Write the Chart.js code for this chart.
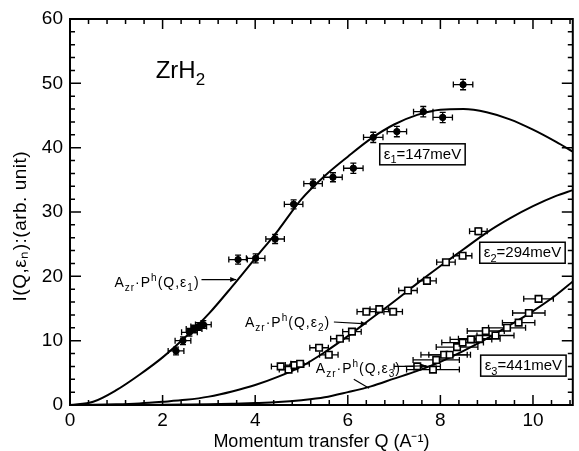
<!DOCTYPE html>
<html><head><meta charset="utf-8">
<script src="https://cdn.jsdelivr.net/npm/chart.js@4.4.0/dist/chart.umd.min.js"></script>
<style>html,body{margin:0;padding:0;background:#fff}</style>
</head><body>
<canvas id="c" width="579" height="451"></canvas>
<script>
// ---- data ----
const e1Q   = [2.29, 2.44, 2.58, 2.68, 2.78, 2.88, 3.63, 4.01, 4.43, 4.83, 5.25, 5.68, 6.12, 6.55, 7.06, 7.63, 8.05, 8.49];
const e1I   = [8.4, 10.0, 11.3, 11.8, 12.2, 12.5, 22.6, 22.8, 25.8, 31.2, 34.4, 35.4, 36.8, 41.6, 42.5, 45.6, 44.7, 49.8];
const e1Qerr= [0.17, 0.17, 0.17, 0.17, 0.17, 0.17, 0.2, 0.2, 0.2, 0.2, 0.2, 0.2, 0.21, 0.21, 0.21, 0.21, 0.21, 0.21];
const e1Ierr= [0.6, 0.6, 0.6, 0.6, 0.6, 0.6, 0.7, 0.7, 0.7, 0.7, 0.7, 0.7, 0.8, 0.8, 0.8, 0.8, 0.8, 0.8];

const e2Q   = [4.55, 4.72, 4.85, 4.97, 5.38, 5.59, 5.83, 6.09, 6.40, 6.68, 6.98, 7.30, 7.71, 8.12, 8.48, 8.82];
const e2I   = [6.0, 5.5, 6.2, 6.4, 8.9, 7.8, 10.3, 11.4, 14.5, 14.9, 14.5, 17.8, 19.3, 22.2, 23.2, 27.0];
const e2Qerr= [0.2, 0.2, 0.2, 0.2, 0.2, 0.2, 0.2, 0.2, 0.2, 0.2, 0.2, 0.2, 0.2, 0.2, 0.2, 0.19];
const e2Ierr= [0.4, 0.4, 0.4, 0.4, 0.4, 0.4, 0.4, 0.4, 0.4, 0.4, 0.4, 0.4, 0.4, 0.4, 0.4, 0.5];

const e3Q   = [7.50, 7.84, 7.91, 8.08, 8.20, 8.36, 8.48, 8.66, 8.84, 8.98, 9.19, 9.44, 9.69, 9.91, 10.12];
const e3I   = [6.0, 5.5, 7.0, 7.8, 7.8, 9.0, 9.7, 10.2, 10.3, 11.5, 10.8, 12.0, 12.8, 14.3, 16.5];
const e3Qerr= [0.5, 0.57, 0.5, 0.5, 0.45, 0.45, 0.45, 0.45, 0.45, 0.4, 0.4, 0.4, 0.35, 0.35, 0.32];
const e3Ierr= [0.3, 0.3, 0.3, 0.3, 0.3, 0.3, 0.3, 0.3, 0.3, 0.3, 0.3, 0.3, 0.3, 0.3, 0.4];

// model curves A_zr·P^h(Q,εn)
const curveQ  = [0, 0.5, 1, 1.5, 2, 2.5, 3, 3.5, 4, 4.5, 5, 5.5, 6, 6.5, 7, 7.5, 8, 8.5, 9, 9.5, 10, 10.5, 10.86];
const curveE1 = [0, 0.5, 2.3, 4.7, 7.4, 10.6, 14.2, 18.4, 22.8, 27.2, 32.0, 35.6, 38.6, 41.4, 43.6, 45.1, 45.9, 46.0, 45.5, 44.4, 42.8, 40.9, 39.4];
const curveE2 = [0, 0.02, 0.1, 0.25, 0.5, 0.8, 1.3, 2.1, 3.1, 4.4, 6.0, 8.2, 10.7, 13.4, 16.1, 18.9, 21.6, 24.2, 26.8, 29.0, 30.9, 32.5, 33.4];
const curveE3 = [0, 0, 0, 0.01, 0.03, 0.07, 0.12, 0.2, 0.3, 0.45, 0.75, 1.2, 2.0, 2.9, 4.1, 5.3, 6.7, 8.4, 10.3, 12.4, 14.6, 17.1, 19.2];

// axis ticks
const xMajorTicks = [0, 2, 4, 6, 8, 10];
const yMajorTicks = [0, 10, 20, 30, 40, 50, 60];
const xMinorStep = 0.4;
const yMinorStep = 2;

// texts
const xTitle = 'Momentum transfer Q (A\u207B\u00B9)';
const yTitle = 'I(Q,\u03B5\u2099):(arb. unit)';
const sampleLabel = [['ZrH',''],['2','sub']];
const curveLabels = [
  {runs:[['A',''],['zr','sub'],['\u00B7P',''],['h','sup'],['(Q,\u03B5',''],['1','sub'],[')','']], q:0.96, v:18.35, arrow:[2.84,19.5,3.59,19.5]},
  {runs:[['A',''],['zr','sub'],['\u00B7P',''],['h','sup'],['(Q,\u03B5',''],['2','sub'],[')','']], q:3.78, v:12.1, arrow:[5.70,12.9,6.41,12.6]},
  {runs:[['A',''],['zr','sub'],['\u00B7P',''],['h','sup'],['(Q,\u03B5',''],['3','sub'],[')','']], q:5.31, v:5.0, arrow:[7.23,6.0,7.70,6.1], leader:[6.13,4.0,6.46,2.6]}
];
const energyBoxes = [
  {runs:[['\u03B5',''],['1','sub'],['=147meV','']], q:6.69, v:40.6},
  {runs:[['\u03B5',''],['2','sub'],['=294meV','']], q:8.85, v:25.3},
  {runs:[['\u03B5',''],['3','sub'],['=441meV','']], q:8.87, v:7.75}
];

const FONT = "'Liberation Sans', Arial, Helvetica, sans-serif";
Chart.defaults.font.family = FONT;
Chart.defaults.color = '#000';

const pts = (xs, ys) => xs.map((x, i) => ({x, y: ys[i]}));

function runWidth(ctx, runs, size) {
  let w = 0;
  for (const [t, k] of runs) {
    ctx.font = (k ? Math.round(size * 0.72) : size) + 'px ' + FONT;
    w += ctx.measureText(t).width;
  }
  return w;
}
function drawRich(ctx, x, y, runs, size) {
  ctx.textBaseline = 'alphabetic';
  ctx.textAlign = 'left';
  for (const [t, k] of runs) {
    const s = k ? Math.round(size * 0.72) : size;
    ctx.font = s + 'px ' + FONT;
    const dy = k === 'sub' ? size * 0.3 : (k === 'sup' ? -size * 0.45 : 0);
    ctx.fillText(t, x, y + dy);
    x += ctx.measureText(t).width;
  }
  return x;
}
function arrow(ctx, x1, y1, x2, y2) {
  ctx.beginPath(); ctx.moveTo(x1, y1); ctx.lineTo(x2, y2); ctx.stroke();
  const a = Math.atan2(y2 - y1, x2 - x1), L = 6, W = 2.5;
  ctx.beginPath();
  ctx.moveTo(x2, y2);
  ctx.lineTo(x2 - L * Math.cos(a) + W * Math.sin(a), y2 - L * Math.sin(a) - W * Math.cos(a));
  ctx.lineTo(x2 - L * Math.cos(a) - W * Math.sin(a), y2 - L * Math.sin(a) + W * Math.cos(a));
  ctx.closePath(); ctx.fill();
}

const errorSets = [
  {q:e1Q, v:e1I, dq:e1Qerr, dv:e1Ierr},
  {q:e2Q, v:e2I, dq:e2Qerr, dv:e2Ierr},
  {q:e3Q, v:e3I, dq:e3Qerr, dv:e3Ierr}
];

const decor = {
  id: 'decor',
  beforeDatasetsDraw(chart) {
    const {ctx, scales: {x, y}} = chart;
    ctx.save();
    ctx.strokeStyle = '#000'; ctx.lineWidth = 1.3;
    for (const s of errorSets) {
      s.q.forEach((q, i) => {
        const px = x.getPixelForValue(q), py = y.getPixelForValue(s.v[i]);
        const xl = x.getPixelForValue(q - s.dq[i]), xr = x.getPixelForValue(q + s.dq[i]);
        const yt = y.getPixelForValue(s.v[i] + s.dv[i]), yb = y.getPixelForValue(s.v[i] - s.dv[i]);
        ctx.beginPath();
        ctx.moveTo(xl, py); ctx.lineTo(xr, py);
        ctx.moveTo(xl, py - 3); ctx.lineTo(xl, py + 3);
        ctx.moveTo(xr, py - 3); ctx.lineTo(xr, py + 3);
        ctx.moveTo(px, yt); ctx.lineTo(px, yb);
        ctx.moveTo(px - 3, yt); ctx.lineTo(px + 3, yt);
        ctx.moveTo(px - 3, yb); ctx.lineTo(px + 3, yb);
        ctx.stroke();
      });
    }
    ctx.restore();
  },
  afterDraw(chart) {
    const {ctx, chartArea: a, scales: {x, y}} = chart;
    ctx.save();
    ctx.strokeStyle = '#000'; ctx.fillStyle = '#000';
    // frame
    ctx.lineWidth = 2;
    ctx.strokeRect(a.left, a.top, a.right - a.left, a.bottom - a.top);
    // inward ticks on all four sides
    ctx.lineWidth = 1.5;
    ctx.beginPath();
    for (let q = 0; q <= x.max + 1e-9; q += xMinorStep) {
      const major = xMajorTicks.some(t => Math.abs(t - q) < 1e-6);
      const len = major ? 10 : 5, px = x.getPixelForValue(q);
      ctx.moveTo(px, a.bottom); ctx.lineTo(px, a.bottom - len);
      ctx.moveTo(px, a.top); ctx.lineTo(px, a.top + len);
    }
    for (let v = 0; v <= y.max + 1e-9; v += yMinorStep) {
      const major = yMajorTicks.some(t => Math.abs(t - v) < 1e-6);
      const len = major ? 11 : 5, py = y.getPixelForValue(v);
      ctx.moveTo(a.left, py); ctx.lineTo(a.left + len, py);
      ctx.moveTo(a.right, py); ctx.lineTo(a.right - len, py);
    }
    ctx.stroke();
    // y axis title (rotated)
    ctx.save();
    ctx.translate(21, y.getPixelForValue(27.8));
    ctx.rotate(-Math.PI / 2);
    ctx.font = '19px ' + FONT;
    ctx.textAlign = 'center'; ctx.textBaseline = 'middle';
    ctx.letterSpacing = '0.5px';
    ctx.fillText(yTitle, 0, 0);
    ctx.restore();
    // sample name
    drawRich(ctx, x.getPixelForValue(1.85), y.getPixelForValue(50.85), sampleLabel, 24);
    // curve labels with arrows
    ctx.lineWidth = 1.2;
    for (const c of curveLabels) {
      ctx.letterSpacing = '1px';
      drawRich(ctx, x.getPixelForValue(c.q), y.getPixelForValue(c.v), c.runs, 14);
      ctx.letterSpacing = '0px';
      const [q1, v1, q2, v2] = c.arrow;
      arrow(ctx, x.getPixelForValue(q1), y.getPixelForValue(v1), x.getPixelForValue(q2), y.getPixelForValue(v2));
      if (c.leader) {
        const [a1, b1, a2, b2] = c.leader;
        ctx.beginPath();
        ctx.moveTo(x.getPixelForValue(a1), y.getPixelForValue(b1));
        ctx.lineTo(x.getPixelForValue(a2), y.getPixelForValue(b2));
        ctx.stroke();
      }
    }
    // energy boxes
    for (const b of energyBoxes) {
      const bx = x.getPixelForValue(b.q), by = y.getPixelForValue(b.v);
      const w = runWidth(ctx, b.runs, 15) + 8, h = 21;
      ctx.fillStyle = '#fff';
      ctx.fillRect(bx, by, w, h);
      ctx.lineWidth = 1.5;
      ctx.strokeRect(bx, by, w, h);
      ctx.fillStyle = '#000';
      drawRich(ctx, bx + 4, by + 15, b.runs, 15);
    }
    ctx.restore();
  }
};

new Chart(document.getElementById('c'), {
  type: 'scatter',
  data: {
    datasets: [
      {label:'e1', data: pts(e1Q, e1I), pointStyle:'circle', pointRadius:3.2, backgroundColor:'#000', borderColor:'#000', borderWidth:1, order:0},
      {label:'e2', data: pts(e2Q, e2I), pointStyle:'rect', pointRadius:4.6, backgroundColor:'#fff', borderColor:'#000', borderWidth:1.6, order:0},
      {label:'e3', data: pts(e3Q, e3I), pointStyle:'rect', pointRadius:4.6, backgroundColor:'#fff', borderColor:'#000', borderWidth:1.6, order:0},
      {type:'line', label:'c1', data: pts(curveQ, curveE1), showLine:true, pointRadius:0, borderColor:'#000', borderWidth:2, cubicInterpolationMode:'monotone', fill:false, order:1},
      {type:'line', label:'c2', data: pts(curveQ, curveE2), showLine:true, pointRadius:0, borderColor:'#000', borderWidth:2, cubicInterpolationMode:'monotone', fill:false, order:1},
      {type:'line', label:'c3', data: pts(curveQ, curveE3), showLine:true, pointRadius:0, borderColor:'#000', borderWidth:2, cubicInterpolationMode:'monotone', fill:false, order:1}
    ]
  },
  options: {
    responsive: false,
    animation: false,
    devicePixelRatio: 1,
    layout: {padding: {top: 19, right: 1, left: 0, bottom: 0}},
    plugins: {legend: {display: false}, tooltip: {enabled: false}},
    scales: {
      x: {
        type: 'linear', min: 0, max: 10.86,
        ticks: {stepSize: 2, includeBounds: false, autoSkip: false, maxRotation: 0, padding: 4,
                font: {size: 19}, color: '#000',
                callback: v => xMajorTicks.includes(v) ? String(v) : ''},
        grid: {display: false, drawTicks: false, tickLength: 0}, border: {display: false},
        title: {display: true, text: xTitle, font: {size: 18}, color: '#000', padding: {top: 0, bottom: -2}},
        afterFit: s => { s.height = 46; }
      },
      y: {
        type: 'linear', min: 0, max: 60,
        ticks: {stepSize: 10, padding: 7, font: {size: 19}, color: '#000',
                callback: v => yMajorTicks.includes(v) ? String(v) : ''},
        grid: {display: false, drawTicks: false, tickLength: 0}, border: {display: false},
        title: {display: false},
        afterFit: s => { s.width = 70; }
      }
    }
  },
  plugins: [decor]
});
</script>
</body></html>
